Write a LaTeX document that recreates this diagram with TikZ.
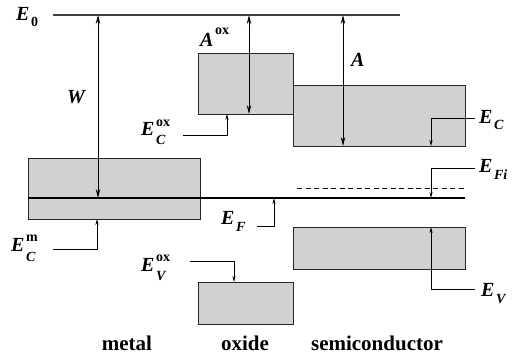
\documentclass[tikz,border=0pt]{standalone}
\usepackage{fontspec}
\setmainfont{Liberation Serif}
\usetikzlibrary{arrows.meta}
\newcommand\subf{\fontsize{14}{14}\selectfont\bfseries}
% #1 letter, #2 subscript, #3 superscript, #4 sup raise, #5 sub drop
\newcommand\lev[5]{\textit{#1}\kern1.5pt\rlap{\raisebox{#4}{\subf\upshape #3}}\raisebox{-#5}{\subf #2}}
\begin{document}
\begin{tikzpicture}[x=1pt,y=-1pt,
  band/.style={draw=black!85, line width=0.9pt, fill=black!18, inner sep=0pt, outer sep=0pt},
  dim/.style={{Stealth[length=9pt,width=4.5pt]}-{Stealth[length=9pt,width=4.5pt]}, line width=0.9pt},
  ptr/.style={-{Stealth[length=6pt,width=3.2pt]}, line width=0.8pt},
  lbl/.style={font=\fontsize{20}{22}\selectfont\bfseries\itshape, inner sep=0pt, anchor=base west},
  captext/.style={font=\fontsize{21}{24}\selectfont\bfseries, inner sep=0pt, anchor=base},
  ]
\useasboundingbox (0,0) rectangle (514,357);
% bands
\node[band, minimum width=172pt, minimum height=61pt] (metal) at (114,188.5) {};
\node[band, minimum width=95pt, minimum height=61pt] (oxc) at (245.5,83.5) {};
\node[band, minimum width=172pt, minimum height=61pt] (semc) at (379,115.5) {};
\node[band, minimum width=172pt, minimum height=42pt] (semv) at (379,248) {};
\node[band, minimum width=95pt, minimum height=42pt] (oxv) at (245.5,303) {};
% levels
\coordinate (e0l) at (53,15);
\coordinate (e0r) at (400,15);
\draw[line width=1.6pt, black!75] (e0l) -- (e0r);
\coordinate (efl) at (28,198);
\coordinate (efr) at (465,198);
\draw[line width=1.9pt] (efl) -- (efr);
\coordinate (efil) at (297,188);
\coordinate (efir) at (465,188);
\draw[dashed, line width=0.8pt, dash pattern=on 5pt off 3.5pt] (efil) -- (efir);
% dimension arrows
\coordinate (wt) at (98,15);
\coordinate (wb) at (98,198);
\draw[dim] (wt) -- (wb);
\coordinate (aoxt) at (249,15);
\coordinate (aoxb) at (249,114);
\draw[dim] (aoxt) -- (aoxb);
\coordinate (at) at (343,15);
\coordinate (ab) at (343,146);
\draw[dim] (at) -- (ab);
% labels
\node[lbl] (E0) at (16,20) {\lev{E}{\upshape 0}{}{0pt}{6pt}};
\node[lbl] (Aox) at (200,46) {\lev{A}{}{ox}{12pt}{0pt}};
\node[lbl] (W) at (67,103) {W};
\node[lbl] (A) at (351,66) {A};
\node[lbl] (ECox) at (141,135) {\lev{E}{C}{ox}{9pt}{9pt}};
\node[lbl] (EC) at (479,123) {\lev{E}{C}{}{0pt}{6pt}};
\node[lbl] (EFi) at (479,172) {\lev{E}{Fi}{}{0pt}{7pt}};
\node[lbl] (ECm) at (11,251) {\lev{E}{C}{m}{10pt}{10pt}};
\node[lbl] (EVox) at (141,271) {\lev{E}{V}{ox}{10pt}{9pt}};
\node[lbl] (EF) at (221,224) {\lev{E}{F}{}{0pt}{7pt}};
\node[lbl] (EV) at (481,296) {\lev{E}{V}{}{0pt}{7pt}};
% pointers
\coordinate (p1) at (183,135);
\coordinate (q1) at (227,114);
\draw[ptr] (p1) -| (q1);
\coordinate (p2) at (475,118);
\coordinate (q2) at (431,146);
\draw[ptr] (p2) -| (q2);
\coordinate (p3) at (475,168);
\coordinate (q3) at (431,198);
\draw[ptr] (p3) -| (q3);
\coordinate (p4) at (475,289);
\coordinate (q4) at (431,227);
\draw[ptr] (p4) -| (q4);
\coordinate (p5) at (53,249);
\coordinate (q5) at (97,219);
\draw[ptr] (p5) -| (q5);
\coordinate (p6) at (190,261);
\coordinate (q6) at (234,282);
\draw[ptr] (p6) -| (q6);
\coordinate (p7) at (257,226);
\coordinate (q7) at (274,198);
\draw[ptr] (p7) -| (q7);
% captions
\node[captext] (cm) at (127,350) {metal};
\node[captext] (co) at (245,350) {oxide};
\node[captext] (cs) at (377,350) {semiconductor};
\end{tikzpicture}
\end{document}
